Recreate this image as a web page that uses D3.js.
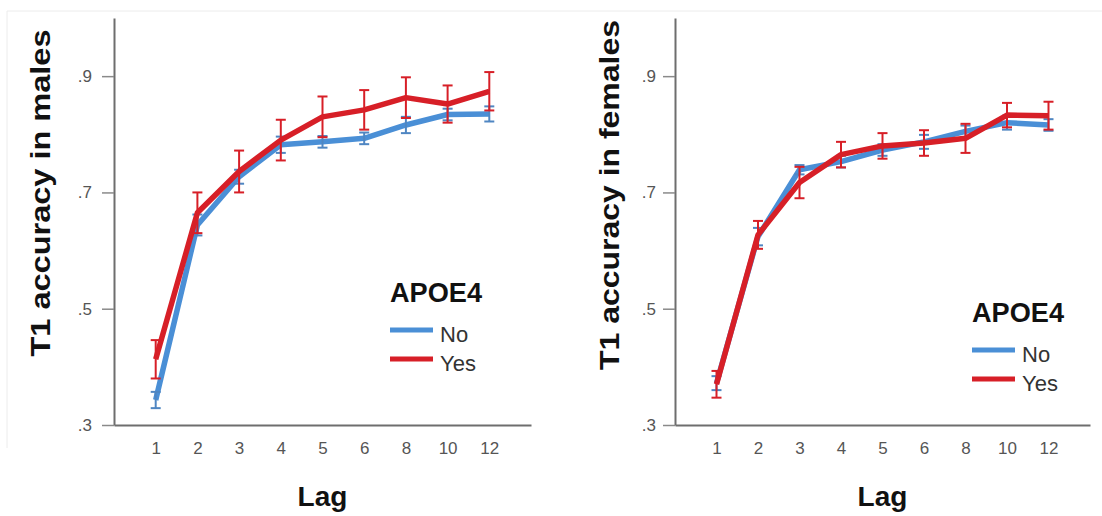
<!DOCTYPE html>
<html>
<head>
<meta charset="utf-8">
<script src="https://cdn.jsdelivr.net/npm/d3@7"></script>
<style>
  body { margin: 0; background: #fff; }
  text { font-family: "Liberation Sans", Arial, Helvetica, sans-serif; }
</style>
</head>
<body>
<div id="chart"></div>
<script>
// lag categories and y ticks
const lags = ["1", "2", "3", "4", "5", "6", "8", "10", "12"];
const yTicks = [0.3, 0.5, 0.7, 0.9];
const groups = ["No", "Yes"];

// males: mean and standard error per lag
const maleNo = [0.343, 0.644, 0.727, 0.782, 0.787, 0.793, 0.816, 0.834, 0.835];
const maleNoSE = [0.014, 0.018, 0.012, 0.014, 0.010, 0.010, 0.014, 0.010, 0.013];
const maleYes = [0.413, 0.665, 0.736, 0.790, 0.830, 0.842, 0.863, 0.852, 0.874];
const maleYesSE = [0.033, 0.035, 0.036, 0.035, 0.035, 0.034, 0.035, 0.032, 0.033];

// females
const femaleNo = [0.372, 0.624, 0.739, 0.753, 0.773, 0.787, 0.805, 0.820, 0.816];
const femaleNoSE = [0.012, 0.015, 0.008, 0.010, 0.010, 0.012, 0.010, 0.012, 0.010];
const femaleYes = [0.370, 0.627, 0.717, 0.765, 0.780, 0.785, 0.793, 0.833, 0.832];
const femaleYesSE = [0.023, 0.024, 0.027, 0.022, 0.022, 0.022, 0.025, 0.021, 0.024];

const blue = "#4a8fd6";
const blueBar = "#4f86c2";
const red = "#d71f27";

const W = 1102, H = 516;
const plotTop = 18, plotBottom = 425;

const svg = d3.select("#chart").append("svg")
  .attr("width", W)
  .attr("height", H);

// faint frame from the source image
svg.append("line").attr("x1", 7).attr("x2", W).attr("y1", 11).attr("y2", 11)
  .attr("stroke", "#ececec").attr("stroke-width", 1);
svg.append("line").attr("x1", 7).attr("x2", 7).attr("y1", 11).attr("y2", 448)
  .attr("stroke", "#ececec").attr("stroke-width", 1);

const y = d3.scaleLinear().domain([0.3, 1.0]).range([plotBottom, plotTop]);

function drawPanel(p) {
  const x = d3.scalePoint().domain(lags).range([p.left, p.right]).padding(1);

  // y axis
  const yAxis = svg.append("g")
    .attr("transform", "translate(" + p.left + ",0)")
    .call(d3.axisLeft(y).tickValues(yTicks).tickSize(12).tickSizeOuter(0).tickPadding(p.tickPad)
      .tickFormat(d => d3.format(".1f")(d).replace(/^0/, "")));
  yAxis.select(".domain").attr("stroke", "#6e6e6e").attr("stroke-width", 2);
  yAxis.selectAll(".tick line").attr("stroke", "#8a8a8a").attr("stroke-width", 1.5);
  yAxis.selectAll(".tick text").attr("fill", "#555").style("font-size", "17px");

  // x axis
  const xAxis = svg.append("g")
    .attr("transform", "translate(0," + plotBottom + ")")
    .call(d3.axisBottom(x).tickSize(0).tickSizeOuter(0).tickPadding(17));
  xAxis.select(".domain").attr("stroke", "#6e6e6e").attr("stroke-width", 2);
  xAxis.selectAll(".tick text").attr("fill", "#555").style("font-size", "17px");

  const line = d3.line()
    .x((d, i) => x(lags[i]))
    .y(d => y(d));

  p.series.forEach(s => {
    svg.append("path")
      .datum(s.mean)
      .attr("fill", "none")
      .attr("stroke", s.color)
      .attr("stroke-width", 5.5)
      .attr("stroke-linejoin", "round")
      .attr("d", line);

    // error bars
    const bars = svg.append("g").attr("stroke", s.barColor).attr("stroke-width", 2);
    s.mean.forEach((m, i) => {
      const cx = x(lags[i]);
      const lo = y(m - s.se[i]), hi = y(m + s.se[i]);
      bars.append("line").attr("x1", cx).attr("x2", cx).attr("y1", lo).attr("y2", hi);
      bars.append("line").attr("x1", cx - 5).attr("x2", cx + 5).attr("y1", lo).attr("y2", lo);
      bars.append("line").attr("x1", cx - 5).attr("x2", cx + 5).attr("y1", hi).attr("y2", hi);
    });
  });

  // y title
  svg.append("text")
    .attr("transform", "translate(" + p.titleX + "," + p.titleY + ") rotate(-90)")
    .attr("text-anchor", "middle")
    .attr("textLength", p.titleLen)
    .attr("lengthAdjust", "spacingAndGlyphs")
    .style("font-size", "28px")
    .style("font-weight", "bold")
    .attr("fill", "#111")
    .text(p.title);

  // x title
  svg.append("text")
    .attr("x", (p.left + p.right) / 2)
    .attr("y", 506)
    .attr("text-anchor", "middle")
    .style("font-size", "28px")
    .style("font-weight", "bold")
    .attr("fill", "#111")
    .text("Lag");

  // legend
  const lg = svg.append("g").attr("transform", "translate(" + p.legX + "," + p.legY + ")");
  lg.append("text")
    .attr("x", 0).attr("y", 0)
    .attr("textLength", 92)
    .attr("lengthAdjust", "spacingAndGlyphs")
    .style("font-size", "27px")
    .style("font-weight", "bold")
    .attr("fill", "#111")
    .text("APOE4");
  groups.forEach((g, i) => {
    const ly = 28 + i * 29;
    lg.append("line")
      .attr("x1", 0).attr("x2", 43).attr("y1", ly).attr("y2", ly)
      .attr("stroke", p.series[i].color).attr("stroke-width", 5);
    lg.append("text")
      .attr("x", 50).attr("y", ly + 12)
      .style("font-size", "22px")
      .attr("fill", "#333")
      .text(g);
  });
}

drawPanel({
  left: 114, right: 531, tickPad: 10,
  title: "T1 accuracy in males", titleX: 50, titleY: 193, titleLen: 327,
  legX: 390, legY: 302,
  series: [
    { mean: maleNo, se: maleNoSE, color: blue, barColor: blueBar },
    { mean: maleYes, se: maleYesSE, color: red, barColor: red }
  ]
});

drawPanel({
  left: 675, right: 1090, tickPad: 7,
  title: "T1 accuracy in females", titleX: 619, titleY: 195, titleLen: 350,
  legX: 972, legY: 322,
  series: [
    { mean: femaleNo, se: femaleNoSE, color: blue, barColor: blueBar },
    { mean: femaleYes, se: femaleYesSE, color: red, barColor: red }
  ]
});
</script>
</body>
</html>
